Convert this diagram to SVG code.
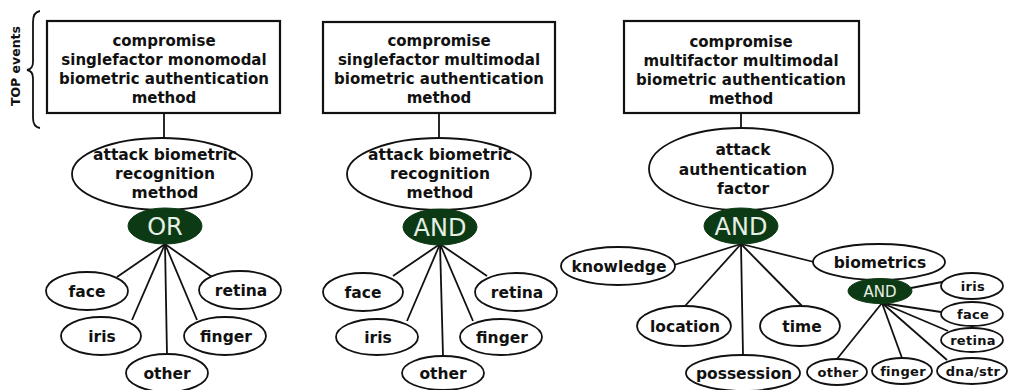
<svg xmlns="http://www.w3.org/2000/svg" width="1009" height="390" viewBox="0 0 1009 390">
<style>
.box{fill:#fff;stroke:#111;stroke-width:2.2}
.el{fill:#fff;stroke:#111;stroke-width:1.8}
.gate{fill:#0c3a14;stroke:#0c3a14;stroke-width:1}
.t{font-family:"DejaVu Sans",Verdana,sans-serif;font-weight:bold;fill:#111;text-anchor:middle}
.bt{font-size:15px}
.nt{font-size:15.5px}
.st{font-size:13px;letter-spacing:0.3px}
.gt{font-family:"DejaVu Sans",Verdana,sans-serif;fill:#e6efe4;text-anchor:middle;font-size:24px}
.gs{font-size:15px}
.ln{stroke:#111;stroke-width:1.8;fill:none}
</style>
<rect width="1009" height="390" fill="#fff"/>
<g id="topLabel">
<path class="ln" d="M40,11 Q33,12 33,22 L33,62 Q33,69 27,70 Q33,71 33,78 L33,118 Q33,127 40,128" stroke-width="1.5"/>
<text class="t" font-size="12.5" transform="translate(20,66) rotate(-90)">TOP events</text>
</g>
<g id="connectors">
<line class="ln" x1="164" y1="113" x2="164" y2="138"/>
<line class="ln" x1="439" y1="113" x2="439" y2="138"/>
<line class="ln" x1="741" y1="113" x2="741" y2="128"/>
<line class="ln" x1="165" y1="244" x2="117" y2="277"/>
<line class="ln" x1="165" y1="244" x2="132" y2="320"/>
<line class="ln" x1="165" y1="244" x2="167" y2="355"/>
<line class="ln" x1="165" y1="244" x2="197" y2="320"/>
<line class="ln" x1="165" y1="244" x2="212" y2="277"/>
<line class="ln" x1="440" y1="244" x2="393" y2="276"/>
<line class="ln" x1="440" y1="244" x2="407" y2="321"/>
<line class="ln" x1="440" y1="244" x2="443" y2="355"/>
<line class="ln" x1="440" y1="244" x2="473" y2="321"/>
<line class="ln" x1="440" y1="244" x2="487" y2="276"/>
<line class="ln" x1="741" y1="244" x2="674" y2="265"/>
<line class="ln" x1="741" y1="244" x2="685" y2="306"/>
<line class="ln" x1="741" y1="244" x2="743" y2="355"/>
<line class="ln" x1="741" y1="244" x2="802" y2="306"/>
<line class="ln" x1="741" y1="244" x2="814" y2="262"/>
<line class="ln" x1="911" y1="288" x2="942" y2="282"/>
<line class="ln" x1="882" y1="303" x2="941" y2="312"/>
<line class="ln" x1="882" y1="303" x2="948" y2="331"/>
<line class="ln" x1="882" y1="303" x2="947" y2="360"/>
<line class="ln" x1="882" y1="303" x2="902" y2="358"/>
<line class="ln" x1="882" y1="303" x2="837" y2="359"/>
</g>
<g id="top1">
<rect class="box" x="47" y="21" width="233" height="92"/>
<text class="t bt" x="164" y="46">compromise</text>
<text class="t bt" x="164" y="65">singlefactor monomodal</text>
<text class="t bt" x="164" y="84">biometric authentication</text>
<text class="t bt" x="164" y="103">method</text>
</g>
<g id="attack1">
<ellipse class="el" cx="162" cy="174" rx="90" ry="36"/>
<text class="t nt" x="165" y="160">attack biometric</text>
<text class="t nt" x="165" y="179">recognition</text>
<text class="t nt" x="165" y="198">method</text>
</g>
<g id="gate1">
<ellipse class="gate" cx="165" cy="226" rx="37" ry="18"/>
<text class="gt" x="165" y="235">OR</text>
</g>
<g id="face1"><ellipse class="el" cx="87" cy="291" rx="41" ry="19"/><text class="t nt" x="87" y="297">face</text></g>
<g id="iris1"><ellipse class="el" cx="101" cy="336" rx="40" ry="19"/><text class="t nt" x="102" y="342">iris</text></g>
<g id="other1"><ellipse class="el" cx="167" cy="373" rx="41" ry="19"/><text class="t nt" x="167" y="379">other</text></g>
<g id="finger1"><ellipse class="el" cx="225" cy="336" rx="41" ry="19"/><text class="t nt" x="226" y="342">finger</text></g>
<g id="retina1"><ellipse class="el" cx="240" cy="290" rx="41" ry="19"/><text class="t nt" x="241" y="296">retina</text></g>

<g id="top2">
<rect class="box" x="323" y="22" width="232" height="91"/>
<text class="t bt" x="439" y="46">compromise</text>
<text class="t bt" x="439" y="65">singlefactor multimodal</text>
<text class="t bt" x="439" y="84">biometric authentication</text>
<text class="t bt" x="439" y="103">method</text>
</g>
<g id="attack2">
<ellipse class="el" cx="439" cy="174" rx="92" ry="36"/>
<text class="t nt" x="440" y="160">attack biometric</text>
<text class="t nt" x="440" y="179">recognition</text>
<text class="t nt" x="440" y="198">method</text>
</g>
<g id="gate2">
<ellipse class="gate" cx="440" cy="227" rx="37" ry="18"/>
<text class="gt" x="440" y="236">AND</text>
</g>
<g id="face2"><ellipse class="el" cx="363" cy="292" rx="40" ry="19"/><text class="t nt" x="363" y="298">face</text></g>
<g id="iris2"><ellipse class="el" cx="377" cy="337" rx="41" ry="18"/><text class="t nt" x="378" y="343">iris</text></g>
<g id="other2"><ellipse class="el" cx="443" cy="373" rx="41" ry="17"/><text class="t nt" x="443" y="379">other</text></g>
<g id="finger2"><ellipse class="el" cx="501" cy="337" rx="41" ry="18"/><text class="t nt" x="502" y="343">finger</text></g>
<g id="retina2"><ellipse class="el" cx="516" cy="292" rx="41" ry="19"/><text class="t nt" x="517" y="298">retina</text></g>

<g id="top3">
<rect class="box" x="624" y="21" width="235" height="92"/>
<text class="t bt" x="741" y="47">compromise</text>
<text class="t bt" x="741" y="66">multifactor multimodal</text>
<text class="t bt" x="741" y="85">biometric authentication</text>
<text class="t bt" x="741" y="104">method</text>
</g>
<g id="attack3">
<ellipse class="el" cx="741" cy="169" rx="92" ry="41"/>
<text class="t nt" x="743" y="155">attack</text>
<text class="t nt" x="743" y="175">authentication</text>
<text class="t nt" x="743" y="194">factor</text>
</g>
<g id="gate3">
<ellipse class="gate" cx="741" cy="226" rx="37" ry="18"/>
<text class="gt" x="741" y="235">AND</text>
</g>
<g id="knowledge"><ellipse class="el" cx="618" cy="266" rx="57" ry="19"/><text class="t nt" x="619" y="272">knowledge</text></g>
<g id="location"><ellipse class="el" cx="684" cy="326" rx="47" ry="20"/><text class="t nt" x="685" y="332">location</text></g>
<g id="possession"><ellipse class="el" cx="743" cy="373" rx="57" ry="18"/><text class="t nt" x="744" y="379">possession</text></g>
<g id="time"><ellipse class="el" cx="800" cy="326" rx="40" ry="20"/><text class="t nt" x="802" y="332">time</text></g>
<g id="biometrics"><ellipse class="el" cx="879" cy="262" rx="66" ry="18"/><text class="t nt" x="880" y="268">biometrics</text></g>
<g id="gate4">
<ellipse class="gate" cx="880" cy="291" rx="32" ry="12.5"/>
<text class="gt gs" x="880" y="297">AND</text>
</g>
<g id="iris3"><ellipse class="el" cx="972" cy="286" rx="31" ry="13"/><text class="t st" x="973" y="291">iris</text></g>
<g id="face3"><ellipse class="el" cx="972" cy="314" rx="31" ry="12"/><text class="t st" x="973" y="319">face</text></g>
<g id="retina3"><ellipse class="el" cx="972" cy="340" rx="31" ry="12"/><text class="t st" x="973" y="345">retina</text></g>
<g id="dnastr"><ellipse class="el" cx="972" cy="371" rx="35" ry="13"/><text class="t st" x="973" y="376">dna/str</text></g>
<g id="finger3"><ellipse class="el" cx="902" cy="371" rx="30" ry="13"/><text class="t st" x="903" y="376">finger</text></g>
<g id="other3"><ellipse class="el" cx="837" cy="372" rx="30" ry="13"/><text class="t st" x="838" y="377">other</text></g>
</svg>
